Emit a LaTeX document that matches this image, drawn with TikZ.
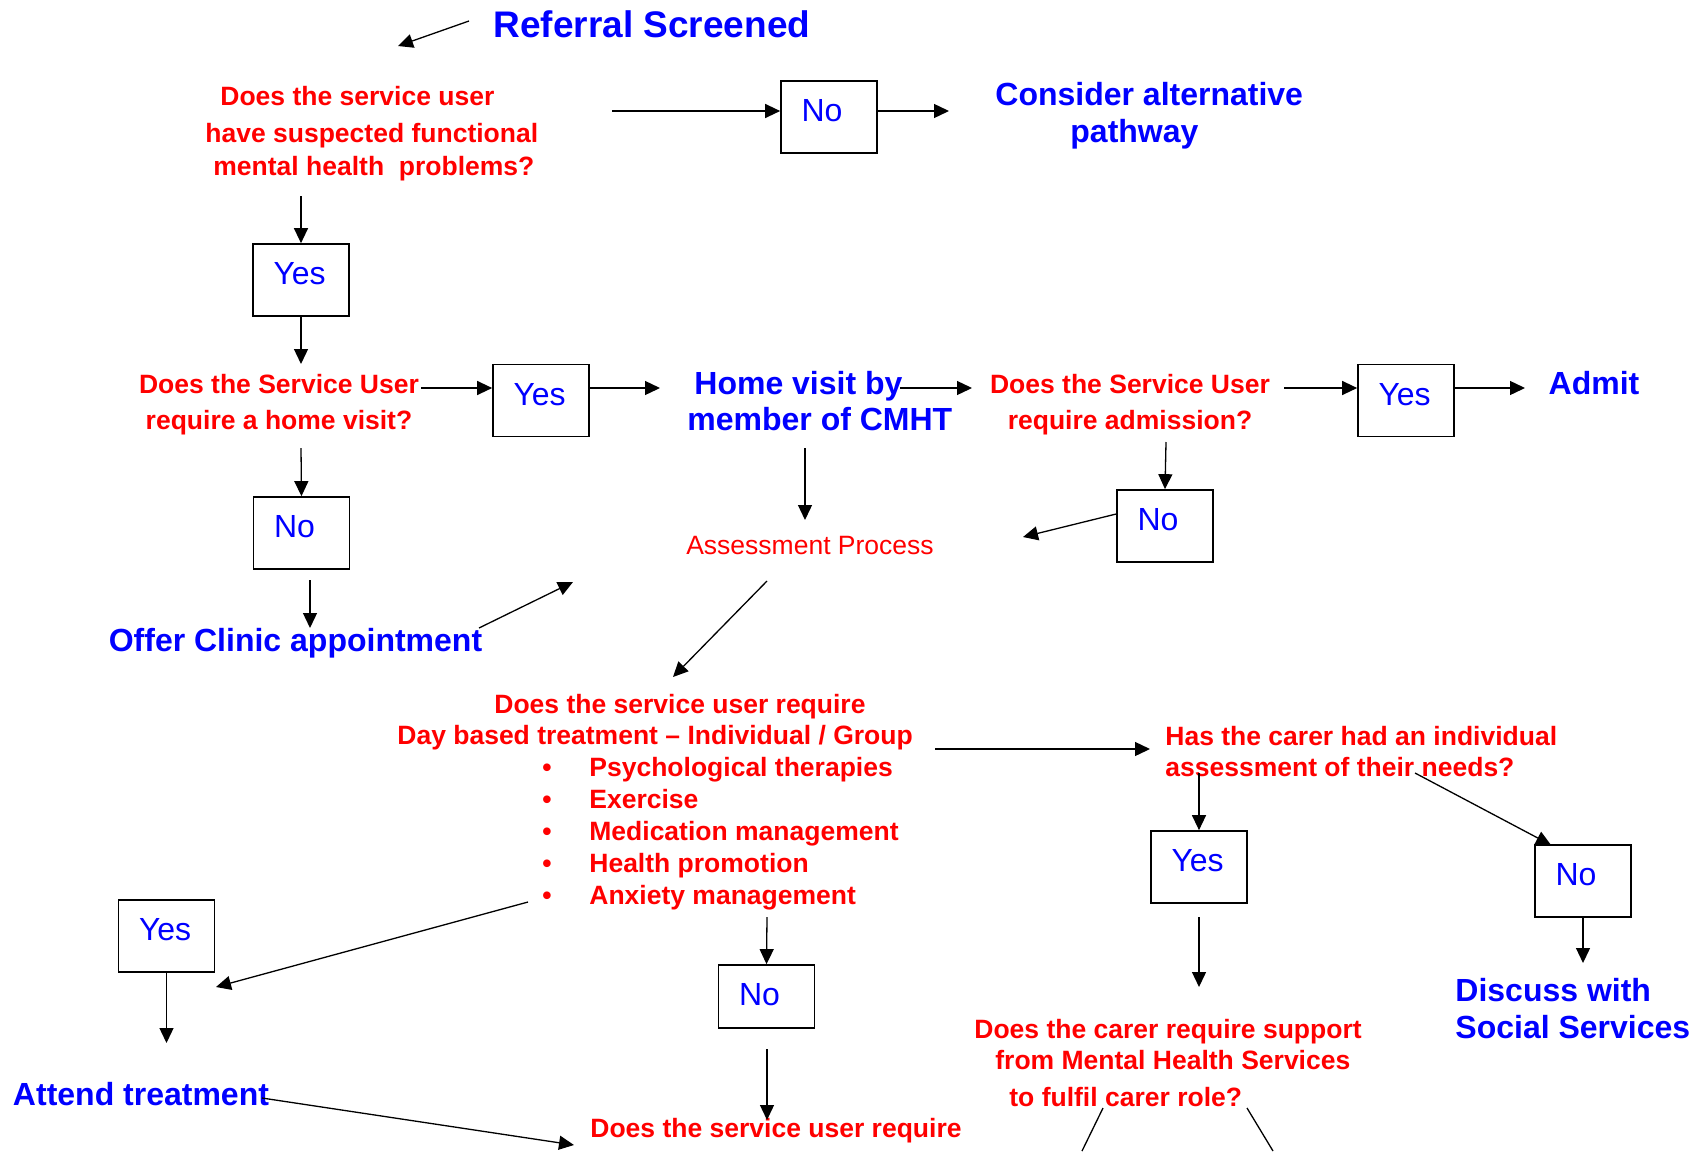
\documentclass[tikz,border=0pt]{standalone}
\usepackage{fontspec}
\setmainfont{Liberation Sans}
\usetikzlibrary{arrows.meta}
\definecolor{bl}{RGB}{0,0,255}
\definecolor{rd}{RGB}{255,0,0}
\newcommand\bxt[2][3pt]{\raisebox{#1}[\height][\depth]{\makebox[27.5pt][l]{#2}}}
\begin{document}
\begin{tikzpicture}[x=0.5pt,y=-0.5pt,
  bluet/.style={text=bl, font=\bfseries\fontsize{16}{18.5}\selectfont, inner sep=0pt},
  bigblue/.style={text=bl, font=\bfseries\fontsize{18.5}{22}\selectfont, inner sep=0pt},
  redt/.style={text=rd, font=\bfseries\fontsize{13.25}{16.5}\selectfont, inner sep=0pt},
  redlist/.style={text=rd, font=\bfseries\fontsize{13.25}{16}\selectfont, inner sep=0pt, align=left},
  redr/.style={text=rd, font=\fontsize{13.25}{16}\selectfont, inner sep=0pt},
  ansbox/.style={draw, line width=0.85pt, minimum width=48pt, minimum height=36pt, inner sep=0pt, text=bl, font=\fontsize{16}{18}\selectfont},
  arr/.style={line width=0.65pt, -{Triangle[length=7.5pt,width=7pt]}},
  ln/.style={line width=0.65pt}]
\useasboundingbox (0,0) rectangle (1695,1151);
\fill[white] (0,0) rectangle (1695,1151);
\clip (0,0) rectangle (1695,1151);

% ---------- texts ----------
\node[bigblue] (ref) at (652,24) {Referral Screened};
\node[redt, align=left, anchor=west] (q1) at (205,134) {\hspace*{7.5pt}Does the service user\\[2pt] have suspected functional\\ \hspace*{4pt}mental health\ \ problems?};
\node[bluet, align=left, anchor=west] (alt) at (995,116) {Consider alternative\\ \hspace*{37.5pt}pathway};
\node[redt, align=center] (q2) at (279,405) {Does the Service User\\[1.5pt] require a home visit?};
\node[bluet, align=left, anchor=west] (home) at (687,401) {\hspace*{3.5pt}Home visit by\\[-0.5pt] member of CMHT};
\node[redt, align=center] (q3) at (1130,405) {Does the Service User\\[1.5pt] require admission?};
\node[bluet] (admit) at (1594,383) {Admit};
\node[bluet] (offer) at (295.5,643) {Offer Clinic appointment};
\node[redr] (assess) at (810,546) {Assessment Process};
\node[redt, align=left, anchor=west] (q4) at (397,722) {\hspace*{48.5pt}Does the service user require\\[-1pt] Day based treatment -- Individual / Group};
\node[redlist, anchor=west] (q4list) at (542,834) {\makebox[23.5pt][l]{•}Psychological therapies\\ \makebox[23.5pt][l]{•}Exercise\\ \makebox[23.5pt][l]{•}Medication management\\ \makebox[23.5pt][l]{•}Health promotion\\ \makebox[23.5pt][l]{•}Anxiety management};
\node[redt, align=left, anchor=west] (carer) at (1165,752) {Has the carer had an individual\\[-1pt] assessment of their needs?};
\node[bluet, align=left, anchor=west] (discuss) at (1455,1008.5) {Discuss with\\ Social Services};
\node[redt, align=left, anchor=west] (carer2) at (974,1063) {Does the carer require support\\[-1pt] \hspace*{10.5pt}from Mental Health Services\\[2pt] \hspace*{17.5pt}to fulfil carer role?};
\node[bluet] (attend) at (141,1094) {Attend treatment};
\node[redt, anchor=west] (q5) at (590,1131) {Does the service user require};

% ---------- boxes ----------
\node[ansbox] (no1) at (829,117) {\bxt{No}};
\node[ansbox] (yes1) at (301,280) {\bxt{Yes}};
\node[ansbox] (yes2) at (541,400.5) {\bxt{Yes}};
\node[ansbox] (yes3) at (1406,400.5) {\bxt{Yes}};
\node[ansbox] (no2) at (301.5,533) {\bxt{No}};
\node[ansbox] (no3) at (1165,526) {\bxt{No}};
\node[ansbox] (yes4) at (1199,867) {\bxt{Yes}};
\node[ansbox] (no4) at (1583,881) {\bxt{No}};
\node[ansbox] (yes5) at (166.5,936) {\bxt{Yes}};
\node[ansbox, minimum height=31.5pt] (no5) at (766.5,996.5) {\bxt[0.75pt]{No}};

% ---------- connector end points ----------
\coordinate (refA) at (469,21);
\coordinate (refB) at (398,46);
\coordinate (a2) at (612,111);
\coordinate (a3) at (949,111);
\coordinate (a4) at (301,196);
\coordinate (a5) at (301,364);
\coordinate (a6) at (421,388);
\coordinate (a7) at (660,388);
\coordinate (a8s) at (900,388);
\coordinate (a8e) at (972,388);
\coordinate (a9) at (1284,388);
\coordinate (a10) at (1525,388);
\coordinate (a11) at (301,448);
\coordinate (a12s) at (310,580);
\coordinate (a12e) at (310,628);
\coordinate (a13s) at (479,628);
\coordinate (a13e) at (573,582);
\coordinate (a14s) at (805,448);
\coordinate (a14e) at (805,520);
\coordinate (a15) at (1023,537);
\coordinate (a16) at (1166,442);
\coordinate (a17s) at (767,581);
\coordinate (a17e) at (673,677);
\coordinate (a18s) at (935,749);
\coordinate (a18e) at (1150,749);
\coordinate (a19) at (1199,773);
\coordinate (a20s) at (1415,773);
\coordinate (a20e) at (1551,845);
\coordinate (a21) at (1583,963);
\coordinate (a22s) at (1199,917);
\coordinate (a22e) at (1199,987);
\coordinate (a23s) at (528,902);
\coordinate (a23e) at (216,987);
\coordinate (a24) at (166.5,1043);
\coordinate (a25s) at (262,1098);
\coordinate (a25e) at (574,1145);
\coordinate (a26) at (767,917);
\coordinate (a27s) at (767,1049);
\coordinate (a27e) at (767,1120);
\coordinate (l1s) at (1103,1108);
\coordinate (l1e) at (1082,1151);
\coordinate (l2s) at (1247,1108);
\coordinate (l2e) at (1273,1151);

% ---------- connectors ----------
\draw[arr] (refA) -- (refB);
\draw[arr] (a2) -- (a2 -| no1.west);
\draw[arr] (a3 -| no1.east) -- (a3);
\draw[arr] (a4) -- (yes1.north);
\draw[arr] (yes1.south) -- (a5);
\draw[arr] (a6) -- (a6 -| yes2.west);
\draw[arr] (a7 -| yes2.east) -- (a7);
\draw[arr] (a8s) -- (a8e);
\draw[arr] (a9) -- (a9 -| yes3.west);
\draw[arr] (a10 -| yes3.east) -- (a10);
\draw[arr] (a11) -- (no2.north);
\draw[arr] (a12s) -- (a12e);
\draw[arr] (a13s) -- (a13e);
\draw[arr] (a14s) -- (a14e);
\draw[arr] (no3.west |- 0,514) -- (a15);
\draw[arr] (a16) -- (no3.north);
\draw[arr] (a17s) -- (a17e);
\draw[arr] (a18s) -- (a18e);
\draw[arr] (a19) -- (yes4.north);
\draw[arr] (a20s) -- (a20e);
\draw[arr] (no4.south) -- (a21);
\draw[arr] (a22s) -- (a22e);
\draw[arr] (a23s) -- (a23e);
\draw[arr] (yes5.south) -- (a24);
\draw[arr] (a25s) -- (a25e);
\draw[arr] (a26) -- (no5.north);
\draw[arr] (a27s) -- (a27e);
\draw[ln] (l1s) -- (l1e);
\draw[ln] (l2s) -- (l2e);
\end{tikzpicture}
\end{document}
